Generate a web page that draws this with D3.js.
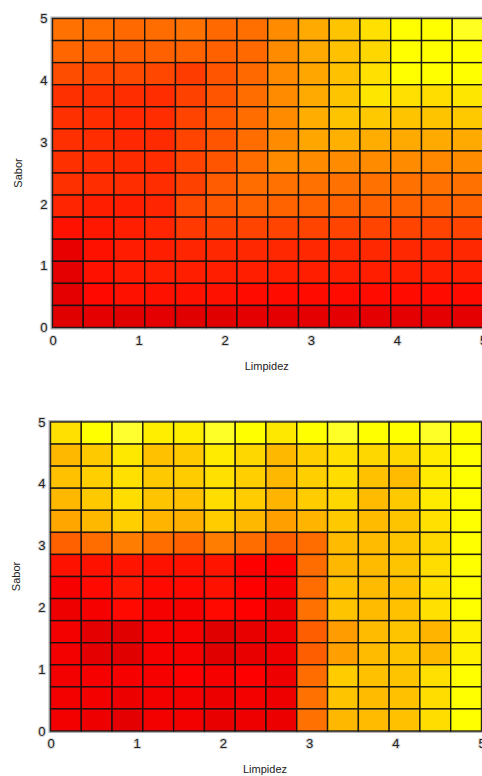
<!DOCTYPE html>
<html>
<head>
<meta charset="utf-8">
<script src="https://cdn.jsdelivr.net/npm/d3@7"></script>
<style>
  html, body { margin: 0; padding: 0; background: #fff; }
  svg { display: block; }
  text { font-family: "Liberation Sans", Arial, sans-serif; fill: #222; }
</style>
</head>
<body>
<svg id="chart" width="482" height="776"></svg>
<script>
// ---- data ----
const xTicks = [0, 1, 2, 3, 4, 5];
const yTicks = [0, 1, 2, 3, 4, 5];
const xLabel = "Limpidez";
const yLabel = "Sabor";
const nBins = 14;          // 14 x 14 cells over [0,5] x [0,5]
// cell scores (0..110), rows listed from top (Sabor = 5) to bottom (Sabor = 0)
const scoresTop = [
  [50,49,47,48,50,47, 49,59,70,79,89,100,100,104],
  [46,44,43,44,45,44, 47,59,70,78,86,100,100,100],
  [37,35,36,35,31,40, 47,59,69,78,89,100,100,100],
  [27,27,26,26,33,40, 48,59,70,79,91,89,88,91],
  [27,26,24,26,34,41, 48,59,71,79,81,79,79,81],
  [27,26,24,25,34,40, 48,59,69,72,71,70,70,70],
  [27,26,25,26,34,40, 48,59,59,59,59,59,58,59],
  [27,26,26,26,33,42, 48,50,50,50,50,50,50,50],
  [23,21,21,23,36,41, 45,45,45,45,45,45,45,45],
  [16,18,21,23,30,33, 34,34,34,34,34,34,34,34],
  [4,16,20,21,23,24, 24,24,24,24,24,24,24,24],
  [3,16,19,21,21,21, 21,21,21,21,21,21,21,21],
  [3,13,16,16,16,16, 14,14,14,14,14,14,14,14],
  [2,3,2,3,2,2, 3,3,3,3,3,3,3,3]
];
const scoresBottom = [
  [89,100,106,94,94,105, 100,92,100,105,100,100,105,100],
  [75,81,92,78,81,93, 86,75,83,89,86,86,93,100],
  [78,83,89,81,82,89, 83,75,83,88,78,76,93,100],
  [75,81,88,79,78,88, 82,74,82,86,76,81,93,100],
  [69,75,83,74,72,82, 75,66,74,81,76,79,89,100],
  [44,48,54,48,44,54, 48,43,48,76,76,79,86,100],
  [16,16,17,16,16,17, 10,10,48,75,76,79,88,100],
  [8,13,18,13,13,16, 10,8,48,78,76,78,89,100],
  [6,8,13,8,8,13, 10,6,50,79,76,78,89,100],
  [7,3,2,8,8,2, 4,6,43,65,76,79,74,95],
  [7,3,2,8,8,2, 4,6,43,66,76,79,75,95],
  [7,8,8,8,10,8, 10,6,48,82,78,79,89,100],
  [7,7,5,7,7,5, 7,6,50,79,76,78,88,100],
  [7,6,3,7,7,4, 6,5,50,75,76,78,88,100]
];

// ---- drawing ----
const svg = d3.select("#chart");
const color = d3.scaleLinear()
  .domain([0, 10, 100, 110])
  .range(["#d80000", "#ff0000", "#ffff00", "#ffff50"])
  .clamp(true);

function drawPanel(scores, box) {
  const g = svg.append("g");
  const x = d3.scaleLinear().domain([0, 5]).range([box.left, box.right]);
  const y = d3.scaleLinear().domain([0, 5]).range([box.bottom, box.top]);
  const step = 5 / nBins;

  const cells = [];
  scores.forEach((row, r) => {
    row.forEach((v, c) => {
      const y1 = 5 - r * step, y0 = 5 - (r + 1) * step;
      cells.push({ x0: c * step, x1: (c + 1) * step, y0, y1, v });
    });
  });

  // frame
  g.append("rect")
    .attr("x", x(0) - 1).attr("y", y(5) - 1)
    .attr("width", x(5) - x(0) + 2).attr("height", y(0) - y(5) + 2)
    .attr("fill", "none").attr("stroke", "#b0b0b0").attr("stroke-width", 2);

  g.selectAll("rect.cell").data(cells).join("rect")
    .attr("class", "cell")
    .attr("x", d => x(d.x0))
    .attr("y", d => y(d.y1))
    .attr("width", d => x(d.x1) - x(d.x0))
    .attr("height", d => y(d.y0) - y(d.y1))
    .attr("fill", d => color(d.v))
    .attr("stroke", "#111")
    .attr("stroke-opacity", 0.9)
    .attr("stroke-width", 1.4);

  // x axis labels
  const xAxis = d3.axisBottom(x).tickValues(xTicks).tickFormat(d3.format("d"))
    .tickSize(0).tickPadding(8);
  const xa = g.append("g").attr("transform", `translate(0,${box.bottom})`).call(xAxis);
  xa.select(".domain").remove();
  xa.selectAll("text")
    .attr("font-size", 13).attr("font-family", "Liberation Sans, Arial, sans-serif")
    .attr("fill", "#222")
    .attr("stroke", "#d8d8d8").attr("stroke-width", 2).attr("paint-order", "stroke");

  // y axis labels
  const yAxis = d3.axisLeft(y).tickValues(yTicks).tickFormat(d3.format("d"))
    .tickSize(0).tickPadding(5);
  const ya = g.append("g").attr("transform", `translate(${box.left},0)`).call(yAxis);
  ya.select(".domain").remove();
  ya.selectAll("text")
    .attr("font-size", 13).attr("font-family", "Liberation Sans, Arial, sans-serif")
    .attr("fill", "#222")
    .attr("stroke", "#d8d8d8").attr("stroke-width", 2).attr("paint-order", "stroke");

  // axis titles
  g.append("text")
    .attr("x", (box.left + box.right) / 2 - 1)
    .attr("y", box.bottom + 42)
    .attr("text-anchor", "middle")
    .attr("font-size", 11)
    .text(xLabel);
  g.append("text")
    .attr("transform", `translate(${box.left - 31},${(box.top + box.bottom) / 2}) rotate(-90)`)
    .attr("text-anchor", "middle")
    .attr("font-size", 11)
    .text(yLabel);
}

drawPanel(scoresTop, { left: 52.5, right: 483, top: 18.5, bottom: 327.5 });
drawPanel(scoresBottom, { left: 50.5, right: 481.5, top: 422, bottom: 731 });
</script>
</body>
</html>
